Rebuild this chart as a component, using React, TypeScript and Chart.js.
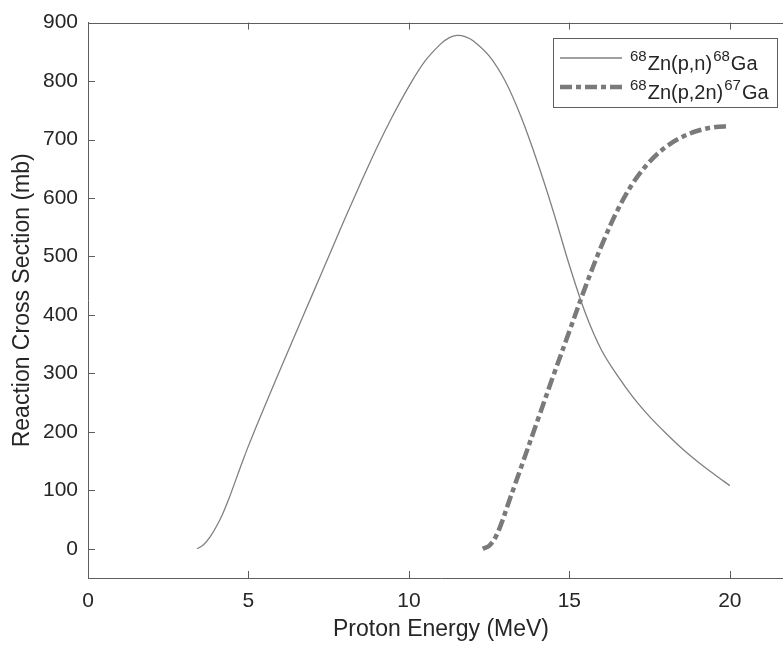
import React, { useEffect, useRef } from "react";
import { Chart, registerables } from "chart.js";

Chart.register(...registerables);

// ---- data ----
const energyPN = [3.4, 3.6, 3.8, 4.0, 4.2, 4.4, 4.6, 4.8, 5.0, 5.5, 6.0, 6.5, 7.0, 7.5, 8.0, 8.5, 9.0, 9.5, 10.0, 10.5, 11.0, 11.25, 11.5, 11.75, 12.0, 12.5, 13.0, 13.5, 14.0, 14.5, 15.0, 15.5, 16.0, 16.5, 17.0, 17.5, 18.0, 18.5, 19.0, 19.5, 20.0];
const sigmaPN = [0, 7, 20, 38, 60, 87, 117, 147, 176, 243, 308, 372, 436, 500, 564, 626, 686, 741, 791, 834, 864, 874, 878, 876, 869, 843, 800, 738, 662, 577, 485, 403, 340, 296, 258, 226, 198, 172, 149, 128, 108];

const energyP2N = [12.3, 12.5, 12.7, 12.9, 13.1, 13.3, 13.5, 14.0, 14.5, 15.0, 15.5, 16.0, 16.5, 17.0, 17.5, 18.0, 18.5, 19.0, 19.5, 20.0];
const sigmaP2N = [0, 5, 20, 46, 78, 109, 140, 218, 296, 372, 448, 518, 579, 627, 662, 687, 704, 715, 721, 723];

const xTickValues = [0, 5, 10, 15, 20];
const yTickValues = [0, 100, 200, 300, 400, 500, 600, 700, 800, 900];

const xTitle = "Proton Energy (MeV)";
const yTitle = "Reaction Cross Section (mb)";

// legend label parts: [pre-superscript, main, superscript, tail]
const legendPN = ["68", "Zn(p,n)", "68", "Ga"];
const legendP2N = ["68", "Zn(p,2n)", "67", "Ga"];

// ---- styles ----
const FONT = "'Liberation Sans', Arial, Helvetica, sans-serif";
const TEXT_COLOR = "#262626";
const AXIS_COLOR = "#5e5e5e";
const LINE1_COLOR = "#808080";
const LINE2_COLOR = "#7a7a7a";
const DASH2 = [12, 4, 5, 4];

const framePlugin = {
  id: "frameAndLegend",
  afterDatasetsDraw(chart: any) {
    const { ctx, chartArea: a, scales } = chart;
    const xs = scales.x;
    const ys = scales.y;
    ctx.save();
    ctx.strokeStyle = AXIS_COLOR;
    ctx.lineWidth = 1;
    ctx.beginPath();
    const topY = Math.round(a.top) + 0.5;
    ctx.moveTo(a.left, topY);
    ctx.lineTo(a.right, topY);
    const tick = 7;
    for (const v of xTickValues) {
      const px = Math.round(xs.getPixelForValue(v)) + 0.5;
      ctx.moveTo(px, a.bottom);
      ctx.lineTo(px, a.bottom - tick);
      ctx.moveTo(px, a.top);
      ctx.lineTo(px, a.top + tick);
    }
    for (const v of yTickValues) {
      const py = Math.round(ys.getPixelForValue(v)) + 0.5;
      ctx.moveTo(a.left, py);
      ctx.lineTo(a.left + tick, py);
    }
    ctx.stroke();

    // legend
    const bx = 553.5, by = 38.5, bw = 224, bh = 69;
    ctx.fillStyle = "#ffffff";
    ctx.fillRect(bx, by, bw, bh);
    ctx.strokeStyle = AXIS_COLOR;
    ctx.lineWidth = 1;
    ctx.strokeRect(bx, by, bw, bh);

    const rows = [
      { parts: legendPN, color: LINE1_COLOR, width: 1.3, dash: [] as number[], base: 70 },
      { parts: legendP2N, color: LINE2_COLOR, width: 4.5, dash: DASH2, base: 99 },
    ];
    for (const r of rows) {
      const ly = r.base - 12;
      ctx.save();
      ctx.strokeStyle = r.color;
      ctx.lineWidth = r.width;
      ctx.lineCap = "butt";
      ctx.setLineDash(r.dash);
      ctx.beginPath();
      ctx.moveTo(560, ly);
      ctx.lineTo(622, ly);
      ctx.stroke();
      ctx.restore();

      ctx.fillStyle = TEXT_COLOR;
      ctx.textBaseline = "alphabetic";
      ctx.textAlign = "left";
      let x = 630;
      const [pre, main, sup, tail] = r.parts;
      ctx.font = `15px ${FONT}`;
      ctx.fillText(pre, x, r.base - 9);
      x += ctx.measureText(pre).width + 1;
      ctx.font = `20px ${FONT}`;
      ctx.fillText(main, x, r.base);
      x += ctx.measureText(main).width + 1;
      ctx.font = `15px ${FONT}`;
      ctx.fillText(sup, x, r.base - 9);
      x += ctx.measureText(sup).width + 1;
      ctx.font = `20px ${FONT}`;
      ctx.fillText(tail, x, r.base);
    }
    ctx.restore();
  },
};

export default function App() {
  const ref = useRef<HTMLCanvasElement>(null);

  useEffect(() => {
    if (!ref.current) return;
    const chart = new Chart(ref.current, {
      type: "scatter",
      data: {
        datasets: [
          {
            label: legendPN.join(""),
            data: energyPN.map((e, i) => ({ x: e, y: sigmaPN[i] })),
            showLine: true,
            borderColor: LINE1_COLOR,
            borderWidth: 1.3,
            pointRadius: 0,
            tension: 0.35,
            fill: false,
          },
          {
            label: legendP2N.join(""),
            data: energyP2N.map((e, i) => ({ x: e, y: sigmaP2N[i] })),
            showLine: true,
            borderColor: LINE2_COLOR,
            borderWidth: 4.5,
            borderDash: DASH2,
            borderCapStyle: "butt",
            pointRadius: 0,
            tension: 0.35,
            fill: false,
          },
        ],
      },
      options: {
        responsive: false,
        animation: false,
        devicePixelRatio: 1,
        layout: { padding: { top: 22, right: 6, left: 0, bottom: 0 } },
        plugins: {
          legend: { display: false },
          tooltip: { enabled: false },
        },
        scales: {
          x: {
            type: "linear",
            position: "bottom",
            min: 0,
            max: 22,
            afterBuildTicks: (s: any) => {
              s.ticks = xTickValues.map((v) => ({ value: v }));
            },
            afterFit: (s: any) => {
              s.height = 68;
            },
            grid: { display: false, drawTicks: false },
            border: { display: true, color: AXIS_COLOR, width: 1 },
            ticks: {
              color: TEXT_COLOR,
              font: { family: FONT, size: 21 },
              padding: 11,
              maxRotation: 0,
            },
            title: {
              display: true,
              text: xTitle,
              color: TEXT_COLOR,
              font: { family: FONT, size: 23 },
              padding: { top: 0, bottom: 3 },
            },
          },
          y: {
            type: "linear",
            min: -50,
            max: 900,
            afterBuildTicks: (s: any) => {
              s.ticks = yTickValues.map((v) => ({ value: v }));
            },
            afterFit: (s: any) => {
              s.width = 88;
            },
            grid: { display: false, drawTicks: false },
            border: { display: true, color: AXIS_COLOR, width: 1 },
            ticks: {
              color: TEXT_COLOR,
              font: { family: FONT, size: 21 },
              padding: 10,
            },
            title: {
              display: true,
              text: yTitle,
              color: TEXT_COLOR,
              font: { family: FONT, size: 23 },
              padding: { top: 9, bottom: 0 },
            },
          },
        },
      },
      plugins: [framePlugin],
    });
    return () => chart.destroy();
  }, []);

  return (
    <div
      style={{
        position: "absolute",
        left: 0,
        top: 0,
        width: 783,
        height: 646,
        overflow: "hidden",
        background: "#fff",
      }}
    >
      <canvas ref={ref} width={800} height={646} style={{ display: "block" }} />
    </div>
  );
}
